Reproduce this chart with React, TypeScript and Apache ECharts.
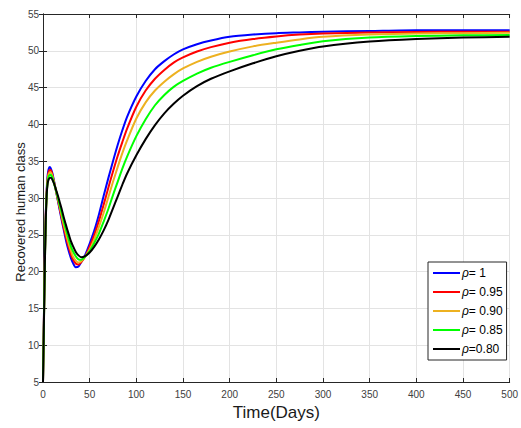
import React, { useEffect, useRef } from "react";
import * as echarts from "echarts";

const days = [0, 1, 2, 3, 4, 5, 6, 7, 8, 9, 10, 12, 14, 16, 18, 20, 22, 24, 26, 28, 30, 32, 35, 38, 41, 45, 50, 55, 60, 65, 70, 75, 80, 85, 90, 100, 110, 120, 130, 140, 150, 165, 180, 200, 225, 250, 275, 300, 350, 400, 450, 500];

const rho100 = [5, 14, 22, 28, 31.3, 33.1, 33.9, 34.2, 34.1, 33.8, 33.4, 32.2, 30.9, 29.6, 28.3, 27.0, 25.8, 24.6, 23.5, 22.6, 21.8, 21.2, 20.6, 20.7, 21.3, 22.2, 23.8, 25.6, 27.8, 30.3, 32.7, 35.0, 37.2, 39.2, 41.0, 43.8, 45.9, 47.5, 48.6, 49.5, 50.2, 50.9, 51.4, 51.9, 52.2, 52.4, 52.5, 52.6, 52.7, 52.8, 52.8, 52.8];
const rho095 = [5, 13.8, 21.8, 27.8, 31.0, 32.7, 33.5, 33.8, 33.8, 33.6, 33.2, 32.1, 30.9, 29.7, 28.5, 27.3, 26.1, 25.0, 24.0, 23.1, 22.3, 21.7, 21.1, 20.95, 21.3, 22.0, 23.4, 25.0, 26.9, 29.1, 31.4, 33.6, 35.7, 37.6, 39.4, 42.4, 44.6, 46.2, 47.4, 48.4, 49.1, 49.9, 50.5, 51.1, 51.6, 51.95, 52.2, 52.35, 52.5, 52.55, 52.6, 52.6];
const rho090 = [5, 13.5, 21.5, 27.5, 30.8, 32.4, 33.2, 33.45, 33.5, 33.35, 33.0, 32.0, 31.0, 29.9, 28.8, 27.6, 26.5, 25.5, 24.5, 23.6, 22.8, 22.1, 21.5, 21.25, 21.4, 22.0, 23.0, 24.4, 26.1, 28.0, 30.1, 32.2, 34.2, 36.1, 37.8, 40.8, 43.0, 44.6, 45.8, 46.8, 47.6, 48.5, 49.2, 49.9, 50.6, 51.1, 51.55, 51.9, 52.2, 52.35, 52.4, 52.45];
const rho085 = [5, 13.2, 21.2, 27.2, 30.6, 32.2, 32.9, 33.1, 33.15, 33.05, 32.8, 31.9, 31.0, 30.0, 29.0, 28.0, 27.0, 26.0, 25.1, 24.2, 23.4, 22.8, 22.1, 21.65, 21.6, 22.0, 22.8, 23.9, 25.2, 26.8, 28.5, 30.4, 32.2, 34.0, 35.6, 38.4, 40.7, 42.6, 44.0, 45.1, 45.9, 46.9, 47.7, 48.5, 49.4, 50.2, 50.8, 51.3, 51.8, 52.0, 52.1, 52.15];
const rho080 = [5, 13, 21, 27, 30.5, 32.0, 32.5, 32.7, 32.75, 32.7, 32.5, 31.9, 31.1, 30.3, 29.4, 28.5, 27.5, 26.6, 25.7, 24.9, 24.1, 23.5, 22.7, 22.2, 21.95, 22.1, 22.6, 23.4, 24.4, 25.6, 27.0, 28.6, 30.2, 31.8, 33.3, 35.8, 38.0, 39.9, 41.5, 42.8, 43.9, 45.2, 46.2, 47.2, 48.3, 49.25, 50.0, 50.6, 51.25, 51.6, 51.8, 51.9];

const seriesNames = ["ρ= 1", "ρ= 0.95", "ρ= 0.90", "ρ= 0.85", "ρ=0.80"];
const seriesColors = ["#0000ff", "#ff0000", "#edb120", "#00ff00", "#000000"];
const seriesValues = [rho100, rho095, rho090, rho085, rho080];

const xTitle = "Time(Days)";
const yTitle = "Recovered human class";

const FONT = "'Liberation Sans', Arial, sans-serif";

export default function App() {
  const ref = useRef<HTMLDivElement>(null);
  useEffect(() => {
    if (!ref.current) return;
    const chart = echarts.init(ref.current, undefined, { renderer: "svg" });
    const axisLine = { show: true, lineStyle: { color: "#262626", width: 1 } };
    const tick = { show: true, inside: true, length: 4, lineStyle: { color: "#262626" } };
    chart.setOption({
      animation: false,
      backgroundColor: "#ffffff",
      textStyle: { fontFamily: FONT },
      grid: { left: 43, right: 9, top: 14, bottom: 46, containLabel: false },
      legend: {
        orient: "vertical",
        left: 428,
        top: 262,
        width: 77,
        padding: [4, 4, 4, 5],
        backgroundColor: "#ffffff",
        borderColor: "#262626",
        borderWidth: 1,
        borderRadius: 0,
        itemWidth: 27,
        itemHeight: 2,
        itemGap: 5,
        icon: "rect",
        data: seriesNames,
        formatter: (name: string) => "{i|ρ}{n|" + name.slice(1) + "}",
        textStyle: {
          fontFamily: FONT,
          fontSize: 12,
          color: "#000",
          lineHeight: 14,
          padding: [0, 0, 0, -3],
          rich: {
            i: { fontStyle: "italic", fontSize: 12, fontFamily: FONT, lineHeight: 14 },
            n: { fontSize: 12, fontFamily: FONT, lineHeight: 14 },
          },
        },
      },
      xAxis: [
        {
          type: "value",
          position: "bottom",
          min: 0,
          max: 500,
          interval: 50,
          axisLine,
          axisTick: tick,
          axisLabel: { fontSize: 10, color: "#404040", margin: 7, fontFamily: FONT },
          splitLine: { show: true, lineStyle: { color: "#e3e3e3", width: 1 } },
          name: xTitle,
          nameLocation: "middle",
          nameGap: 17,
          nameTextStyle: { fontSize: 17, color: "#1a1a1a", fontFamily: FONT },
        },
        {
          type: "value",
          position: "top",
          min: 0,
          max: 500,
          interval: 50,
          axisLine,
          axisTick: tick,
          axisLabel: { show: false },
          splitLine: { show: false },
        },
      ],
      yAxis: [
        {
          type: "value",
          position: "left",
          min: 5,
          max: 55,
          interval: 5,
          axisLine,
          axisTick: tick,
          axisLabel: { fontSize: 10, color: "#404040", margin: 4, fontFamily: FONT },
          splitLine: { show: true, lineStyle: { color: "#e3e3e3", width: 1 } },
        },
        {
          type: "value",
          position: "right",
          min: 5,
          max: 55,
          interval: 5,
          axisLine,
          axisTick: tick,
          axisLabel: { show: false },
          splitLine: { show: false },
        },
      ],
      graphic: [
        {
          type: "text",
          x: 20,
          y: 212,
          rotation: Math.PI / 2,
          style: {
            text: yTitle,
            fontSize: 13,
            fontFamily: FONT,
            fill: "#1a1a1a",
            align: "center",
            verticalAlign: "middle",
          },
        },
      ],
      series: seriesNames.map((name, i) => ({
        name,
        type: "line",
        xAxisIndex: 0,
        yAxisIndex: 0,
        symbol: "none",
        smooth: 0.25,
        color: seriesColors[i],
        lineStyle: { color: seriesColors[i], width: 2 },
        data: days.map((d, j) => [d, seriesValues[i][j]]),
      })),
    });
    return () => chart.dispose();
  }, []);
  return (
    <div
      ref={ref}
      style={{ position: "fixed", left: 0, top: 0, width: 521, height: 428, background: "#fff" }}
    />
  );
}
